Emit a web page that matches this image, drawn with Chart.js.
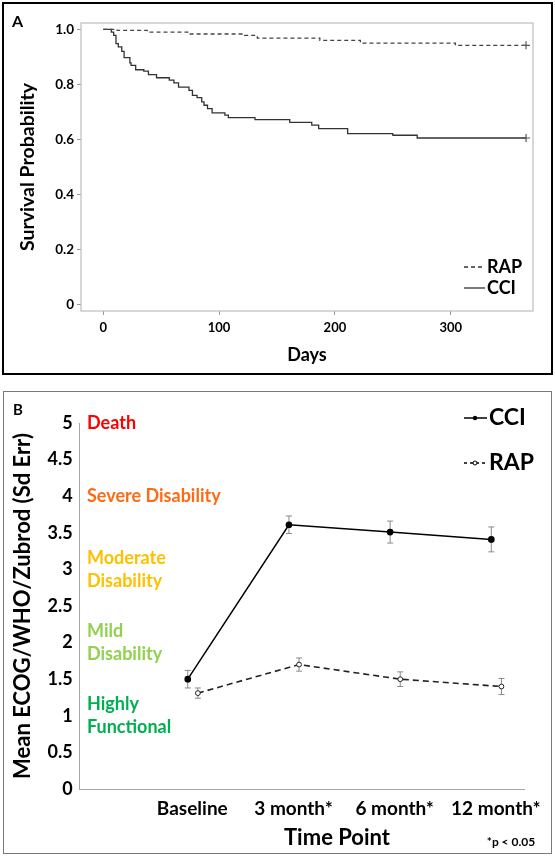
<!DOCTYPE html>
<html>
<head>
<meta charset="utf-8">
<script src="https://cdn.jsdelivr.net/npm/chart.js@4"></script>
<style>
  body { margin: 0; background: #fff; }
  #wrap { position: relative; width: 555px; height: 856px; }
  canvas { position: absolute; left: 0; }
  #chartA { top: 0; }
  #chartB { top: 390px; }
  .box { position: absolute; box-sizing: border-box; pointer-events: none; }
  #boxA { left: 2px; top: 2px; width: 551px; height: 373px; border: 2px solid #000; }
  #boxB { left: 3px; top: 391px; width: 549px; height: 463px; border: 1.5px solid #7a7a7a; }
</style>
</head>
<body>
<div id="wrap">
  <canvas id="chartA" width="555" height="380"></canvas>
  <canvas id="chartB" width="555" height="466"></canvas>
  <div class="box" id="boxA"></div>
  <div class="box" id="boxB"></div>
</div>
<script>
// ---- panel A: Kaplan-Meier survival ----
const cciDays = [0, 7, 9, 11, 13, 16, 18, 23, 24, 28, 35, 39, 46, 57, 61, 65, 74, 77, 81, 85, 87, 90, 94, 105, 108, 131, 161, 180, 186, 211, 250, 271, 365];
const cciSurv = [1.0, 0.99, 0.978, 0.948, 0.936, 0.92, 0.897, 0.878, 0.869, 0.853, 0.848, 0.835, 0.824, 0.815, 0.805, 0.79, 0.778, 0.76, 0.752, 0.736, 0.724, 0.712, 0.696, 0.688, 0.679, 0.672, 0.662, 0.652, 0.639, 0.621, 0.615, 0.605, 0.605];
const rapDays = [0, 12, 38, 73, 122, 133, 187, 222, 304, 365];
const rapSurv = [1.0, 0.996, 0.99, 0.983, 0.978, 0.968, 0.96, 0.95, 0.942, 0.942];
const dayTicks = [0, 100, 200, 300];
const survTicks = [0, 0.2, 0.4, 0.6, 0.8, 1.0];

// ---- panel B: performance status ----
const timeLabels = ['Baseline', '3 month*', '6 month*', '12 month*'];
const cciMean = [1.50, 3.61, 3.51, 3.41];
const cciErr = [0.12, 0.12, 0.15, 0.17];
const rapMean = [1.31, 1.70, 1.50, 1.40];
const rapErr = [0.07, 0.09, 0.10, 0.11];
const levelNames = [['Death'], ['Severe Disability'], ['Moderate', 'Disability'], ['Mild', 'Disability'], ['Highly', 'Functional']];
const levelValues = [5, 4, 3, 2, 1];
const levelColors = ['#ff0000', '#ff6a13', '#ffc000', '#92d050', '#00b050'];

const FONT = 'Lato, "Open Sans", sans-serif';
Chart.defaults.font.family = FONT;
Chart.defaults.color = '#000';

function lastOnly(arr, r) {
    return arr.map((d, i) => i === arr.length - 1 ? r : 0);
}

const frameA = {
    id: 'frameA',
    afterDraw(chart) {
        const { ctx, chartArea: a } = chart;
        ctx.save();
        ctx.strokeStyle = '#bdbdbd';
        ctx.lineWidth = 1.2;
        ctx.strokeRect(a.left, a.top, a.right - a.left, a.bottom - a.top);
        ctx.fillStyle = '#000';
        ctx.font = 'bold 16px ' + FONT;
        ctx.textBaseline = 'middle';
        ctx.fillText('A', 12, 22);
        // legend
        ctx.strokeStyle = '#333';
        ctx.lineWidth = 1.3;
        ctx.setLineDash([4, 3]);
        ctx.beginPath(); ctx.moveTo(464, 267); ctx.lineTo(485, 267); ctx.stroke();
        ctx.setLineDash([]);
        ctx.beginPath(); ctx.moveTo(464, 288); ctx.lineTo(485, 288); ctx.stroke();
        ctx.font = 'bold 18px ' + FONT;
        ctx.fillText('RAP', 487, 267);
        ctx.fillText('CCI', 487, 288);
        ctx.restore();
    }
};

new Chart(document.getElementById('chartA'), {
    type: 'line',
    data: {
        datasets: [
            {
                label: 'RAP',
                data: rapDays.map((d, i) => ({ x: d, y: rapSurv[i] })),
                stepped: true,
                borderColor: '#444',
                borderWidth: 1.3,
                borderDash: [4, 3],
                pointStyle: 'cross',
                pointRadius: lastOnly(rapDays, 4),
                pointBorderColor: '#555',
                pointBorderWidth: 1.2
            },
            {
                label: 'CCI',
                data: cciDays.map((d, i) => ({ x: d, y: cciSurv[i] })),
                stepped: true,
                borderColor: '#333',
                borderWidth: 1.3,
                pointStyle: 'cross',
                pointRadius: lastOnly(cciDays, 4),
                pointBorderColor: '#555',
                pointBorderWidth: 1.2
            }
        ]
    },
    options: {
        responsive: false,
        animation: false,
        layout: { padding: { top: 23, right: 22, left: 0, bottom: 0 } },
        plugins: { legend: { display: false }, tooltip: { enabled: false } },
        scales: {
            x: {
                type: 'linear', min: -19.2, max: 371,
                afterBuildTicks: s => { s.ticks = dayTicks.map(v => ({ value: v })); },
                afterFit: s => { s.height = 69; },
                grid: { drawOnChartArea: false, drawTicks: true, tickLength: 4, color: '#999' },
                border: { display: false },
                ticks: { font: { size: 13, weight: 'bold' }, padding: 5, maxRotation: 0, autoSkip: false },
                title: { display: true, text: 'Days', font: { size: 18, weight: 'bold' }, padding: { top: 0, bottom: 14 } }
            },
            y: {
                type: 'linear', min: -0.024, max: 1.023,
                afterBuildTicks: s => { s.ticks = survTicks.map(v => ({ value: v })); },
                afterFit: s => { s.width = 81; },
                grid: { drawOnChartArea: false, drawTicks: true, tickLength: 4, color: '#999' },
                border: { display: false },
                ticks: { font: { size: 13.5, weight: 'bold' }, padding: 3, callback: v => v === 0 ? '0' : v.toFixed(1) },
                title: { display: true, text: 'Survival Probability', font: { size: 19.5, weight: 'bold' }, padding: { top: 16, bottom: 0 } }
            }
        }
    },
    plugins: [frameA]
});

// error bars and annotations for panel B
const errorBars = {
    id: 'errorBars',
    beforeDatasetsDraw(chart) {
        const { ctx, scales: { x, y } } = chart;
        ctx.save();
        ctx.strokeStyle = '#8a8a8a';
        ctx.lineWidth = 1;
        chart.data.datasets.forEach(ds => {
            ds.data.forEach((p, i) => {
                const px = x.getPixelForValue(p.x);
                const top = y.getPixelForValue(p.y + ds.errors[i]);
                const bot = y.getPixelForValue(p.y - ds.errors[i]);
                ctx.beginPath();
                ctx.moveTo(px, top); ctx.lineTo(px, bot);
                ctx.moveTo(px - 3, top); ctx.lineTo(px + 3, top);
                ctx.moveTo(px - 3, bot); ctx.lineTo(px + 3, bot);
                ctx.stroke();
            });
        });
        ctx.restore();
    }
};

const notesB = {
    id: 'notesB',
    afterDraw(chart) {
        const { ctx, scales: { y } } = chart;
        ctx.save();
        ctx.textBaseline = 'middle';
        ctx.textAlign = 'left';
        ctx.font = 'bold 18px ' + FONT;
        levelNames.forEach((lines, i) => {
            const cy = y.getPixelForValue(levelValues[i]);
            ctx.fillStyle = levelColors[i];
            lines.forEach((t, k) => {
                ctx.fillText(t, 87, cy + (k - (lines.length - 1) / 2) * 22.7);
            });
        });
        ctx.fillStyle = '#000';
        ctx.font = 'bold 15px ' + FONT;
        ctx.fillText('B', 13, 20);
        // legend
        ctx.strokeStyle = '#000';
        ctx.lineWidth = 1.5;
        ctx.beginPath(); ctx.moveTo(464, 28); ctx.lineTo(487, 28); ctx.stroke();
        ctx.beginPath(); ctx.arc(475, 28, 2.2, 0, Math.PI * 2); ctx.fill();
        ctx.setLineDash([3, 3]);
        ctx.beginPath(); ctx.moveTo(464, 73); ctx.lineTo(487, 73); ctx.stroke();
        ctx.setLineDash([]);
        ctx.lineWidth = 1;
        ctx.fillStyle = '#fff';
        ctx.beginPath(); ctx.arc(475, 73, 2, 0, Math.PI * 2); ctx.fill(); ctx.stroke();
        ctx.fillStyle = '#000';
        ctx.font = 'bold 23px ' + FONT;
        ctx.fillText('CCI', 489, 28);
        ctx.fillText('RAP', 489, 73);
        ctx.font = 'bold 22px ' + FONT;
        ctx.textAlign = 'center';
        ctx.fillText('Time Point', 337, 448);
        ctx.font = 'bold 12px ' + FONT;
        ctx.fillText('*p < 0.05', 511, 452);
        ctx.restore();
    }
};

new Chart(document.getElementById('chartB'), {
    type: 'line',
    data: {
        datasets: [
            {
                label: 'CCI',
                data: cciMean.map((v, i) => ({ x: i - 0.045, y: v })),
                errors: cciErr,
                borderColor: '#000',
                borderWidth: 1.5,
                pointRadius: 2.6,
                pointBackgroundColor: '#000',
                pointBorderColor: '#000'
            },
            {
                label: 'RAP',
                data: rapMean.map((v, i) => ({ x: i + 0.055, y: v })),
                errors: rapErr,
                borderColor: '#222',
                borderWidth: 1.6,
                borderDash: [6, 4],
                pointRadius: 2.4,
                pointBackgroundColor: '#fff',
                pointBorderColor: '#222',
                pointBorderWidth: 1
            }
        ]
    },
    options: {
        responsive: false,
        animation: false,
        layout: { padding: { top: 33, right: 30.5, left: 0, bottom: 0 } },
        plugins: { legend: { display: false }, tooltip: { enabled: false } },
        scales: {
            x: {
                type: 'linear', min: -1.113, max: 3.283,
                afterBuildTicks: s => { s.ticks = timeLabels.map((t, i) => ({ value: i })); },
                afterFit: s => { s.height = 67; },
                grid: { display: false, drawTicks: false },
                border: { display: true, color: '#a6a6a6', width: 1 },
                ticks: { font: { size: 19, weight: 'bold' }, padding: 8, maxRotation: 0, autoSkip: false, callback: v => timeLabels[v] }
            },
            y: {
                type: 'linear', min: 0, max: 5,
                afterFit: s => { s.width = 79.7; },
                grid: { display: false, drawTicks: false },
                border: { display: true, color: '#a6a6a6', width: 1 },
                ticks: { stepSize: 0.5, font: { size: 18, weight: 'bold' }, padding: 7, callback: v => String(v) },
                title: { display: true, text: 'Mean ECOG/WHO/Zubrod (Sd Err)', font: { size: 22, weight: 'bold' }, padding: { top: 10, bottom: 0 } }
            }
        }
    },
    plugins: [errorBars, notesB]
});
</script>
</body>
</html>
